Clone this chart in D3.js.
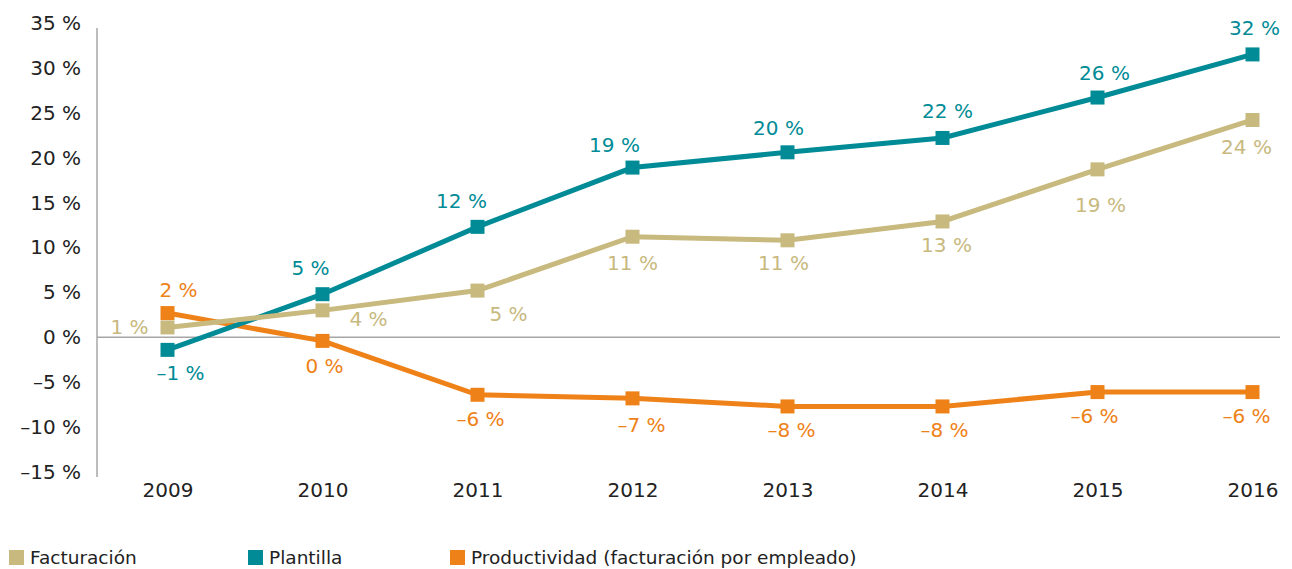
<!DOCTYPE html>
<html>
<head>
<meta charset="utf-8">
<script src="https://cdn.jsdelivr.net/npm/d3@7"></script>
<style>
  html, body { margin: 0; padding: 0; background: #ffffff; }
  svg { display: block; }
  text { font-family: "DejaVu Sans", sans-serif; }
</style>
</head>
<body>
<svg id="chart" width="1292" height="569"></svg>
<script>
// ---------------- DATA ----------------
const years = ["2009", "2010", "2011", "2012", "2013", "2014", "2015", "2016"];
const yTicks = [-15, -10, -5, 0, 5, 10, 15, 20, 25, 30, 35];

const seriesNames = ["Facturación", "Plantilla", "Productividad (facturación por empleado)"];
const facturacion   = [1.1, 3.0, 5.2, 11.2, 10.8, 12.9, 18.7, 24.2];
const plantilla     = [-1.4, 4.8, 12.3, 18.9, 20.6, 22.2, 26.7, 31.5];
const productividad = [2.7, -0.4, -6.4, -6.8, -7.7, -7.7, -6.1, -6.1];

const facturacionLabels   = ["1 %", "4 %", "5 %", "11 %", "11 %", "13 %", "19 %", "24 %"];
const plantillaLabels     = ["–1 %", "5 %", "12 %", "19 %", "20 %", "22 %", "26 %", "32 %"];
const productividadLabels = ["2 %", "0 %", "–6 %", "–7 %", "–8 %", "–8 %", "–6 %", "–6 %"];

// ---------------- LAYOUT / STYLE ----------------
const colors = ["#c8b97e", "#008b96", "#ee8218"];
// label offsets (dx, dy) relative to each marker, per series
const labelOffsets = [
  [[-38, 0], [46, 9], [31, 23], [0, 26], [-4, 23], [4, 24], [3, 36], [-6, 27]],
  [[13, 23], [-12, -26], [-16, -26], [-18, -23], [-9, -24], [5, -27], [7, -25], [2, -26]],
  [[11, -23], [2, 25], [3, 24], [9, 27], [4, 24], [2, 24], [-3, 24], [-6, 24]]
];

const svg = d3.select("#chart");

const x = d3.scalePoint().domain(years).range([167.5, 1252.5]);
const y = d3.scaleLinear().domain([-15, 35]).range([472, 23]);

// y axis
const yAxis = d3.axisLeft(y).tickValues(yTicks).tickSize(0).tickPadding(16)
  .tickFormat(d => (d < 0 ? "–" + Math.abs(d) : d) + " %");
const gy = svg.append("g").attr("transform", "translate(97,0)").call(yAxis);
gy.select(".domain").remove();
gy.selectAll("text").attr("font-size", 20).attr("fill", "#222").attr("font-family", "DejaVu Sans, sans-serif");
svg.append("line").attr("x1", 97).attr("x2", 97).attr("y1", 28).attr("y2", 477)
  .attr("stroke", "#a6a6a6").attr("stroke-width", 1.5);

// zero line
svg.append("line").attr("x1", 97).attr("x2", 1280).attr("y1", y(0)).attr("y2", y(0))
  .attr("stroke", "#a6a6a6").attr("stroke-width", 1.5);

// x axis
const xAxis = d3.axisBottom(x).tickSize(0).tickPadding(0);
const gx = svg.append("g").attr("transform", "translate(0,479)").call(xAxis);
gx.select(".domain").remove();
gx.selectAll("text").attr("font-size", 20).attr("fill", "#222").attr("dy", "0.9em").attr("font-family", "DejaVu Sans, sans-serif");

// series
const allValues = [facturacion, plantilla, productividad];
const allLabels = [facturacionLabels, plantillaLabels, productividadLabels];
const line = d3.line().x((d, i) => x(years[i])).y(d => y(d));
const drawOrder = [2, 1, 0];
const ms = 14;

drawOrder.forEach(s => {
  const g = svg.append("g");
  g.append("path").datum(allValues[s]).attr("d", line)
    .attr("fill", "none").attr("stroke", colors[s]).attr("stroke-width", 5)
    .attr("stroke-linejoin", "miter");
  g.selectAll("rect").data(allValues[s]).join("rect")
    .attr("x", (d, i) => x(years[i]) - ms / 2)
    .attr("y", d => y(d) - ms / 2)
    .attr("width", ms).attr("height", ms)
    .attr("fill", colors[s]);
});

drawOrder.forEach(s => {
  svg.append("g").selectAll("text").data(allValues[s]).join("text")
    .attr("x", (d, i) => x(years[i]) + labelOffsets[s][i][0])
    .attr("y", (d, i) => y(d) + labelOffsets[s][i][1])
    .attr("text-anchor", "middle").attr("dominant-baseline", "central")
    .attr("font-size", 20).attr("fill", colors[s])
    .text((d, i) => allLabels[s][i]);
});

// legend
const legendX = [9, 248, 450];
seriesNames.forEach((name, i) => {
  const g = svg.append("g").attr("transform", `translate(${legendX[i]},550)`);
  g.append("rect").attr("width", 15).attr("height", 15).attr("fill", colors[i]);
  g.append("text").attr("x", 21).attr("y", 14)
    .attr("font-size", 18.5).attr("fill", "#222")
    .attr("font-family", "Liberation Sans, sans-serif")
    .text(name);
});
</script>
</body>
</html>
